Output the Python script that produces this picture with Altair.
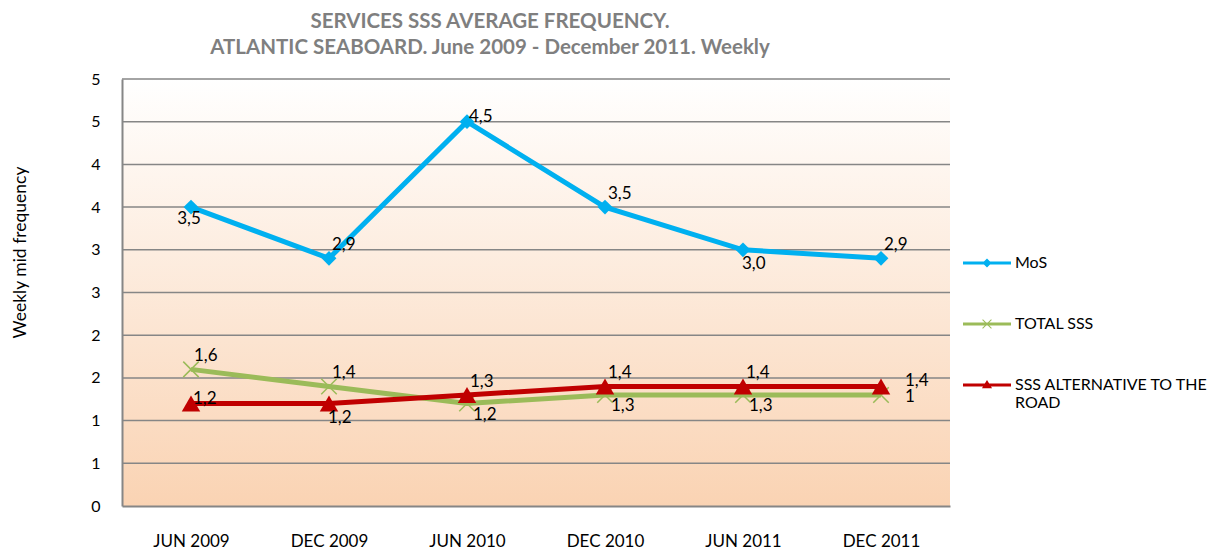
import altair as alt
import pandas as pd

# ---------------- data ----------------
periods = ["JUN 2009", "DEC 2009", "JUN 2010", "DEC 2010", "JUN 2011", "DEC 2011"]
series_names = ["MoS", "TOTAL SSS", "SSS ALTERNATIVE TO THE ROAD"]

mos = [3.5, 2.9, 4.5, 3.5, 3.0, 2.9]
total_sss = [1.6, 1.4, 1.2, 1.3, 1.3, 1.3]
sss_alt = [1.2, 1.2, 1.3, 1.4, 1.4, 1.4]

mos_labels = ["3,5", "2,9", "4,5", "3,5", "3,0", "2,9"]
total_labels = ["1,6", "1,4", "1,2", "1,3", "1,3", "1"]
alt_labels = ["1,2", "1,2", "1,3", "1,4", "1,4", "1,4"]

# label placement codes (where each data label sits relative to its point)
mos_place = ["below", "upright", "right", "upright", "belowright", "upright"]
total_place = ["upright", "upright", "downright", "downright", "downright", "farlow"]
alt_place = ["right", "belowright", "upright", "upright", "upright", "far"]

y_tick_values = [0, 0.5, 1, 1.5, 2, 2.5, 3, 3.5, 4, 4.5, 5]
y_tick_labels = ["0", "1", "1", "2", "2", "3", "3", "4", "4", "5", "5"]

title_lines = ["SERVICES SSS AVERAGE FREQUENCY.",
               "ATLANTIC SEABOARD. June 2009 - December 2011. Weekly"]
y_title = "Weekly mid frequency"

# ---------------- build table ----------------
rows = []
for name, vals, labs, places in [
    (series_names[0], mos, mos_labels, mos_place),
    (series_names[1], total_sss, total_labels, total_place),
    (series_names[2], sss_alt, alt_labels, alt_place),
]:
    for p, v, l, pl in zip(periods, vals, labs, places):
        rows.append({"period": p, "series": name, "value": v, "label": l, "place": pl})
df = pd.DataFrame(rows)
grid_df = pd.DataFrame({"tick": y_tick_values[1:]})

colors = ["#00B0F0", "#9BBB59", "#C00000"]
FONT = "Lato"
FS = 17

# legend symbols: line + marker as one path
legend_paths = [
    "M-1,-0.06L1,-0.06L1,0.06L-1,0.06Z M0,-0.19L0.19,0L0,0.19L-0.19,0Z",
    "M-1,-0.06L1,-0.06L1,0.06L-1,0.06Z "
    "M-0.2,-0.17L-0.17,-0.2L0.2,0.17L0.17,0.2Z M0.17,-0.2L0.2,-0.17L-0.17,0.2L-0.2,0.17Z",
    "M-1,-0.06L1,-0.06L1,0.06L-1,0.06Z M0,-0.21L0.21,0.14L-0.21,0.14Z",
]

x_enc = alt.X("period:N", sort=periods,
              scale=alt.Scale(padding=0.5),
              axis=alt.Axis(title=None, labelAngle=0, ticks=False,
                            domainColor="#868686", domainWidth=2,
                            labelFont=FONT, labelFontSize=FS, labelColor="black",
                            labelPadding=27, zindex=1))

label_expr = "[" + ",".join("'%s'" % s for s in y_tick_labels) + "][indexof([" + \
    ",".join(str(v) for v in y_tick_values) + "], datum.value)]"

y_scale = alt.Scale(domain=[0, 5], nice=False, zero=True)
y_enc = alt.Y("value:Q", scale=y_scale,
              axis=alt.Axis(values=y_tick_values, labelExpr=label_expr, grid=False,
                            ticks=False, domainColor="#868686", domainWidth=2,
                            labelFont=FONT, labelFontSize=16, labelColor="black",
                            labelPadding=22, title=y_title, titleFont=FONT,
                            titleFontSize=17.5, titleFontWeight="normal",
                            titleColor="black", titleX=-102, titleY=173,
                            titleBaseline="middle", zindex=1))

color_scale = alt.Scale(domain=series_names, range=colors)

base = alt.Chart(df)

background = alt.Chart(pd.DataFrame({"a": [0]})).mark_rect(
    fill=alt.Gradient(gradient="linear",
                      stops=[alt.GradientStop(color="#FFFFFF", offset=0),
                             alt.GradientStop(color="#FAD3B3", offset=1)],
                      x1=0, x2=0, y1=0, y2=1)
).encode(y=alt.datum(0, type="quantitative", scale=y_scale), y2=alt.datum(5))

grid = alt.Chart(grid_df).mark_rule(color="#868686", strokeWidth=1.5).encode(
    y=alt.Y("tick:Q", scale=y_scale))

marker_specs = {
    series_names[0]: dict(shape="diamond", filled=True, size=220),
    series_names[1]: dict(shape="M-1,-1L1,1M1,-1L-1,1", filled=False, size=240, strokeWidth=1.5),
    series_names[2]: dict(shape="triangle-up", filled=True, size=340),
}

layers = [background, grid]
for i, name in enumerate(series_names):
    sub = base.transform_filter(alt.datum.series == name)
    line = sub.mark_line(strokeWidth=5, color=colors[i]).encode(x=x_enc, y=y_enc)
    pts = sub.mark_point(color=colors[i], opacity=1, **marker_specs[name]).encode(x=x_enc, y=y_enc)
    layers += [line, pts]

place_styles = {
    "below": dict(align="center", dx=-2, dy=17),
    "belowright": dict(align="left", dx=-1, dy=19),
    "upright": dict(align="left", dx=3, dy=-8),
    "right": dict(align="left", dx=2, dy=0),
    "downright": dict(align="left", dx=6, dy=16),
    "far": dict(align="left", dx=24, dy=0),
    "farlow": dict(align="left", dx=24, dy=7),
}
for code, st in place_styles.items():
    t = base.transform_filter(alt.datum.place == code).mark_text(
        font=FONT, fontSize=FS, color="black", baseline="alphabetic", **st
    ).encode(x=x_enc, y=y_enc, text="label:N")
    layers.append(t)

legend_params = dict(orient="none", legendX=841, legendY=160, title=None,
                     symbolSize=2304, symbolStrokeWidth=0, symbolOpacity=1,
                     labelFont=FONT, labelFontSize=16, labelColor="black",
                     labelOffset=4, rowPadding=29, labelLimit=400,
                     labelExpr="datum.label == 'SSS ALTERNATIVE TO THE ROAD' ? "
                               "['SSS ALTERNATIVE TO THE', 'ROAD'] : datum.label")
legend_layer = base.mark_point(filled=True, opacity=0).encode(
    x=x_enc, y=y_enc,
    color=alt.Color("series:N", scale=color_scale, legend=alt.Legend(**legend_params)),
    shape=alt.Shape("series:N", scale=alt.Scale(domain=series_names, range=legend_paths),
                    legend=alt.Legend(**legend_params)),
)
layers.append(legend_layer)

chart = alt.layer(*layers).properties(
    width=828, height=427,
    title=alt.TitleParams(title_lines, font=FONT, fontSize=20.5, fontWeight="bold",
                          color="#7F7F7F", anchor="middle", dx=-46, offset=13,
                          lineHeight=26),
    padding={"left": 114, "top": 71, "right": 257, "bottom": 45},
    autosize="none",
).configure_view(stroke=None)

chart.save("out.html", embed_options={"renderer": "svg", "actions": False})
